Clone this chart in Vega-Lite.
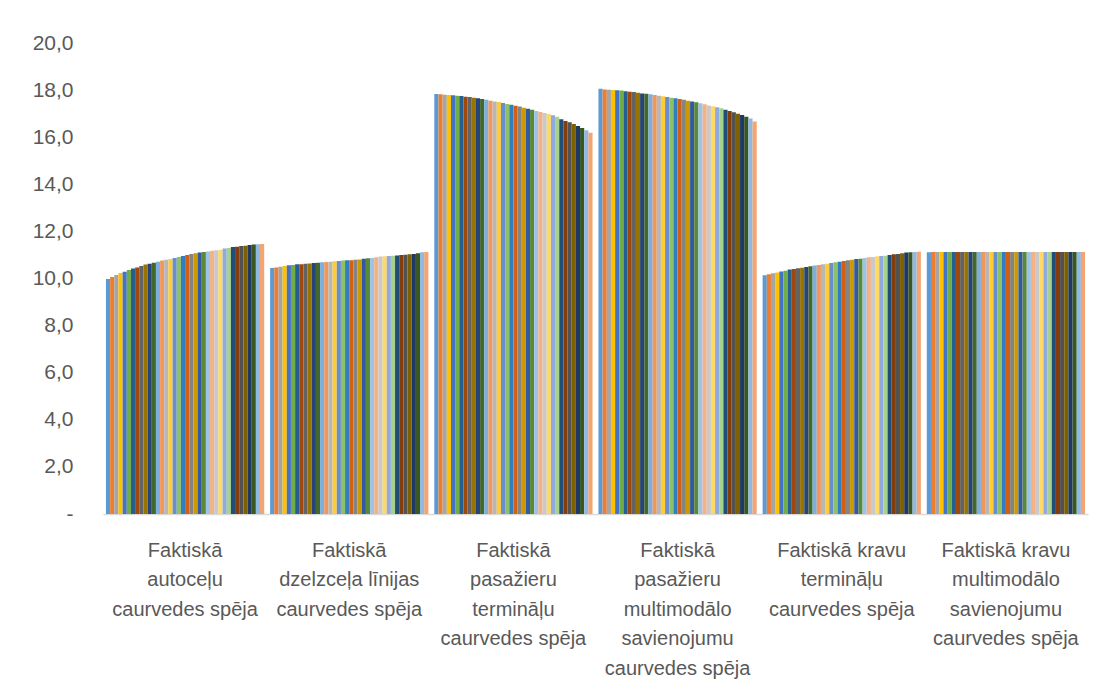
{
  "$schema": "https://vega.github.io/schema/vega-lite/v6.json",
  "autosize": {"type": "none"},
  "width": 985,
  "height": 471,
  "padding": {"left": 103, "top": 43, "right": 15, "bottom": 178},
  "background": "white",
  "config": {
    "view": {"stroke": null},
    "font": "Liberation Sans"
  },
  "datasets": {
    "categories": [
      {"c": 1, "name": "Faktiskā|autoceļu|caurvedes spēja"},
      {"c": 2, "name": "Faktiskā|dzelzceļa līnijas|caurvedes spēja"},
      {"c": 3, "name": "Faktiskā|pasažieru|termināļu|caurvedes spēja"},
      {"c": 4, "name": "Faktiskā|pasažieru|multimodālo|savienojumu|caurvedes spēja"},
      {"c": 5, "name": "Faktiskā kravu|termināļu|caurvedes spēja"},
      {"c": 6, "name": "Faktiskā kravu|multimodālo|savienojumu|caurvedes spēja"}
    ],
    "capacity": [
      {"c":1,"s":1,"v":9.98},{"c":1,"s":2,"v":10.06},{"c":1,"s":3,"v":10.15},{"c":1,"s":4,"v":10.23},{"c":1,"s":5,"v":10.29},{"c":1,"s":6,"v":10.36},{"c":1,"s":7,"v":10.42},{"c":1,"s":8,"v":10.47},{"c":1,"s":9,"v":10.53},{"c":1,"s":10,"v":10.59},{"c":1,"s":11,"v":10.63},{"c":1,"s":12,"v":10.67},{"c":1,"s":13,"v":10.71},{"c":1,"s":14,"v":10.76},{"c":1,"s":15,"v":10.80},{"c":1,"s":16,"v":10.83},{"c":1,"s":17,"v":10.87},{"c":1,"s":18,"v":10.91},{"c":1,"s":19,"v":10.96},{"c":1,"s":20,"v":11.00},{"c":1,"s":21,"v":11.04},{"c":1,"s":22,"v":11.07},{"c":1,"s":23,"v":11.10},{"c":1,"s":24,"v":11.13},{"c":1,"s":25,"v":11.15},{"c":1,"s":26,"v":11.18},{"c":1,"s":27,"v":11.20},{"c":1,"s":28,"v":11.22},{"c":1,"s":29,"v":11.27},{"c":1,"s":30,"v":11.29},{"c":1,"s":31,"v":11.34},{"c":1,"s":32,"v":11.35},{"c":1,"s":33,"v":11.38},{"c":1,"s":34,"v":11.39},{"c":1,"s":35,"v":11.42},{"c":1,"s":36,"v":11.44},{"c":1,"s":37,"v":11.45},{"c":1,"s":38,"v":11.46},
      {"c":2,"s":1,"v":10.45},{"c":2,"s":2,"v":10.47},{"c":2,"s":3,"v":10.50},{"c":2,"s":4,"v":10.53},{"c":2,"s":5,"v":10.56},{"c":2,"s":6,"v":10.57},{"c":2,"s":7,"v":10.60},{"c":2,"s":8,"v":10.61},{"c":2,"s":9,"v":10.63},{"c":2,"s":10,"v":10.64},{"c":2,"s":11,"v":10.66},{"c":2,"s":12,"v":10.67},{"c":2,"s":13,"v":10.69},{"c":2,"s":14,"v":10.70},{"c":2,"s":15,"v":10.71},{"c":2,"s":16,"v":10.73},{"c":2,"s":17,"v":10.74},{"c":2,"s":18,"v":10.76},{"c":2,"s":19,"v":10.77},{"c":2,"s":20,"v":10.78},{"c":2,"s":21,"v":10.80},{"c":2,"s":22,"v":10.81},{"c":2,"s":23,"v":10.84},{"c":2,"s":24,"v":10.86},{"c":2,"s":25,"v":10.87},{"c":2,"s":26,"v":10.90},{"c":2,"s":27,"v":10.93},{"c":2,"s":28,"v":10.94},{"c":2,"s":29,"v":10.96},{"c":2,"s":30,"v":10.97},{"c":2,"s":31,"v":10.98},{"c":2,"s":32,"v":11.00},{"c":2,"s":33,"v":11.01},{"c":2,"s":34,"v":11.03},{"c":2,"s":35,"v":11.04},{"c":2,"s":36,"v":11.07},{"c":2,"s":37,"v":11.11},{"c":2,"s":38,"v":11.12},
      {"c":3,"s":1,"v":17.83},{"c":3,"s":2,"v":17.82},{"c":3,"s":3,"v":17.80},{"c":3,"s":4,"v":17.79},{"c":3,"s":5,"v":17.78},{"c":3,"s":6,"v":17.76},{"c":3,"s":7,"v":17.75},{"c":3,"s":8,"v":17.72},{"c":3,"s":9,"v":17.71},{"c":3,"s":10,"v":17.68},{"c":3,"s":11,"v":17.65},{"c":3,"s":12,"v":17.62},{"c":3,"s":13,"v":17.59},{"c":3,"s":14,"v":17.55},{"c":3,"s":15,"v":17.52},{"c":3,"s":16,"v":17.49},{"c":3,"s":17,"v":17.45},{"c":3,"s":18,"v":17.41},{"c":3,"s":19,"v":17.38},{"c":3,"s":20,"v":17.34},{"c":3,"s":21,"v":17.30},{"c":3,"s":22,"v":17.25},{"c":3,"s":23,"v":17.21},{"c":3,"s":24,"v":17.17},{"c":3,"s":25,"v":17.11},{"c":3,"s":26,"v":17.07},{"c":3,"s":27,"v":17.03},{"c":3,"s":28,"v":16.98},{"c":3,"s":29,"v":16.93},{"c":3,"s":30,"v":16.87},{"c":3,"s":31,"v":16.76},{"c":3,"s":32,"v":16.69},{"c":3,"s":33,"v":16.63},{"c":3,"s":34,"v":16.56},{"c":3,"s":35,"v":16.48},{"c":3,"s":36,"v":16.39},{"c":3,"s":37,"v":16.29},{"c":3,"s":38,"v":16.19},
      {"c":4,"s":1,"v":18.06},{"c":4,"s":2,"v":18.03},{"c":4,"s":3,"v":18.02},{"c":4,"s":4,"v":18.00},{"c":4,"s":5,"v":17.99},{"c":4,"s":6,"v":17.98},{"c":4,"s":7,"v":17.95},{"c":4,"s":8,"v":17.93},{"c":4,"s":9,"v":17.92},{"c":4,"s":10,"v":17.89},{"c":4,"s":11,"v":17.86},{"c":4,"s":12,"v":17.85},{"c":4,"s":13,"v":17.82},{"c":4,"s":14,"v":17.79},{"c":4,"s":15,"v":17.76},{"c":4,"s":16,"v":17.74},{"c":4,"s":17,"v":17.71},{"c":4,"s":18,"v":17.68},{"c":4,"s":19,"v":17.65},{"c":4,"s":20,"v":17.62},{"c":4,"s":21,"v":17.59},{"c":4,"s":22,"v":17.55},{"c":4,"s":23,"v":17.52},{"c":4,"s":24,"v":17.48},{"c":4,"s":25,"v":17.44},{"c":4,"s":26,"v":17.40},{"c":4,"s":27,"v":17.35},{"c":4,"s":28,"v":17.31},{"c":4,"s":29,"v":17.27},{"c":4,"s":30,"v":17.23},{"c":4,"s":31,"v":17.17},{"c":4,"s":32,"v":17.11},{"c":4,"s":33,"v":17.06},{"c":4,"s":34,"v":17.00},{"c":4,"s":35,"v":16.94},{"c":4,"s":36,"v":16.87},{"c":4,"s":37,"v":16.79},{"c":4,"s":38,"v":16.67},
      {"c":5,"s":1,"v":10.14},{"c":5,"s":2,"v":10.18},{"c":5,"s":3,"v":10.22},{"c":5,"s":4,"v":10.26},{"c":5,"s":5,"v":10.30},{"c":5,"s":6,"v":10.33},{"c":5,"s":7,"v":10.38},{"c":5,"s":8,"v":10.40},{"c":5,"s":9,"v":10.43},{"c":5,"s":10,"v":10.46},{"c":5,"s":11,"v":10.49},{"c":5,"s":12,"v":10.52},{"c":5,"s":13,"v":10.55},{"c":5,"s":14,"v":10.57},{"c":5,"s":15,"v":10.60},{"c":5,"s":16,"v":10.63},{"c":5,"s":17,"v":10.66},{"c":5,"s":18,"v":10.69},{"c":5,"s":19,"v":10.71},{"c":5,"s":20,"v":10.74},{"c":5,"s":21,"v":10.77},{"c":5,"s":22,"v":10.80},{"c":5,"s":23,"v":10.83},{"c":5,"s":24,"v":10.84},{"c":5,"s":25,"v":10.87},{"c":5,"s":26,"v":10.90},{"c":5,"s":27,"v":10.91},{"c":5,"s":28,"v":10.94},{"c":5,"s":29,"v":10.96},{"c":5,"s":30,"v":10.97},{"c":5,"s":31,"v":11.00},{"c":5,"s":32,"v":11.03},{"c":5,"s":33,"v":11.04},{"c":5,"s":34,"v":11.07},{"c":5,"s":35,"v":11.10},{"c":5,"s":36,"v":11.11},{"c":5,"s":37,"v":11.13},{"c":5,"s":38,"v":11.14},
      {"c":6,"s":1,"v":11.11},{"c":6,"s":2,"v":11.12},{"c":6,"s":3,"v":11.12},{"c":6,"s":4,"v":11.12},{"c":6,"s":5,"v":11.12},{"c":6,"s":6,"v":11.12},{"c":6,"s":7,"v":11.12},{"c":6,"s":8,"v":11.12},{"c":6,"s":9,"v":11.12},{"c":6,"s":10,"v":11.12},{"c":6,"s":11,"v":11.12},{"c":6,"s":12,"v":11.12},{"c":6,"s":13,"v":11.12},{"c":6,"s":14,"v":11.12},{"c":6,"s":15,"v":11.12},{"c":6,"s":16,"v":11.12},{"c":6,"s":17,"v":11.12},{"c":6,"s":18,"v":11.12},{"c":6,"s":19,"v":11.12},{"c":6,"s":20,"v":11.12},{"c":6,"s":21,"v":11.12},{"c":6,"s":22,"v":11.12},{"c":6,"s":23,"v":11.12},{"c":6,"s":24,"v":11.12},{"c":6,"s":25,"v":11.12},{"c":6,"s":26,"v":11.12},{"c":6,"s":27,"v":11.12},{"c":6,"s":28,"v":11.12},{"c":6,"s":29,"v":11.12},{"c":6,"s":30,"v":11.12},{"c":6,"s":31,"v":11.12},{"c":6,"s":32,"v":11.12},{"c":6,"s":33,"v":11.12},{"c":6,"s":34,"v":11.12},{"c":6,"s":35,"v":11.12},{"c":6,"s":36,"v":11.12},{"c":6,"s":37,"v":11.12},{"c":6,"s":38,"v":11.12}
    ]
  },
  "data": {"name": "capacity"},
  "transform": [
    {"lookup": "c", "from": {"data": {"name": "categories"}, "key": "c", "fields": ["name"]}}
  ],
  "mark": {"type": "bar", "strokeWidth": 0},
  "encoding": {
    "x": {
      "field": "name",
      "type": "nominal",
      "sort": {"field": "c", "op": "min"},
      "scale": {"paddingInner": 0.036, "paddingOuter": 0.018},
      "axis": {
        "title": null,
        "labelAngle": 0,
        "labelExpr": "split(datum.label, '|')",
        "labelFontSize": 20,
        "labelColor": "#595959",
        "labelLineHeight": 29.5,
        "labelBaseline": "top",
        "labelPadding": 26,
        "labelLimit": 0,
        "labelOverlap": false,
        "ticks": false,
        "domainColor": "#D9D9D9",
        "domainWidth": 1.5
      }
    },
    "xOffset": {
      "field": "s",
      "type": "ordinal",
      "scale": {"paddingInner": 0, "paddingOuter": 0}
    },
    "y": {
      "field": "v",
      "type": "quantitative",
      "scale": {"domain": [0, 20], "nice": false},
      "axis": {
        "title": null,
        "values": [0, 2, 4, 6, 8, 10, 12, 14, 16, 18, 20],
        "labelExpr": "datum.value == 0 ? '-\u00a0\u00a0' : replace(format(datum.value, '.1f'), '.', ',')",
        "labelFontSize": 21,
        "labelColor": "#595959",
        "labelPadding": 30,
        "grid": false,
        "ticks": false,
        "domain": false
      }
    },
    "color": {
      "field": "s",
      "type": "ordinal",
      "legend": null,
      "scale": {
        "range": [
          "#5B9BD5", "#ED7D31", "#A5A5A5", "#FFC000", "#4472C4", "#70AD47",
          "#255E91", "#9E480E", "#636363", "#997300", "#264478", "#43682B",
          "#7CAFDD", "#F1975A", "#B7B7B7", "#FFCD33", "#698ED0", "#8CC168",
          "#327DC2", "#D26012", "#848484", "#CC9A00", "#335AA1", "#5A8A39",
          "#9DC3E6", "#F4B183", "#C9C9C9", "#FFD966", "#8FAADC", "#A9D18E",
          "#1F4E79", "#843C0C", "#525252", "#7F6000", "#203864", "#385723",
          "#8FB9E1", "#F3A470"
        ]
      }
    }
  }
}
